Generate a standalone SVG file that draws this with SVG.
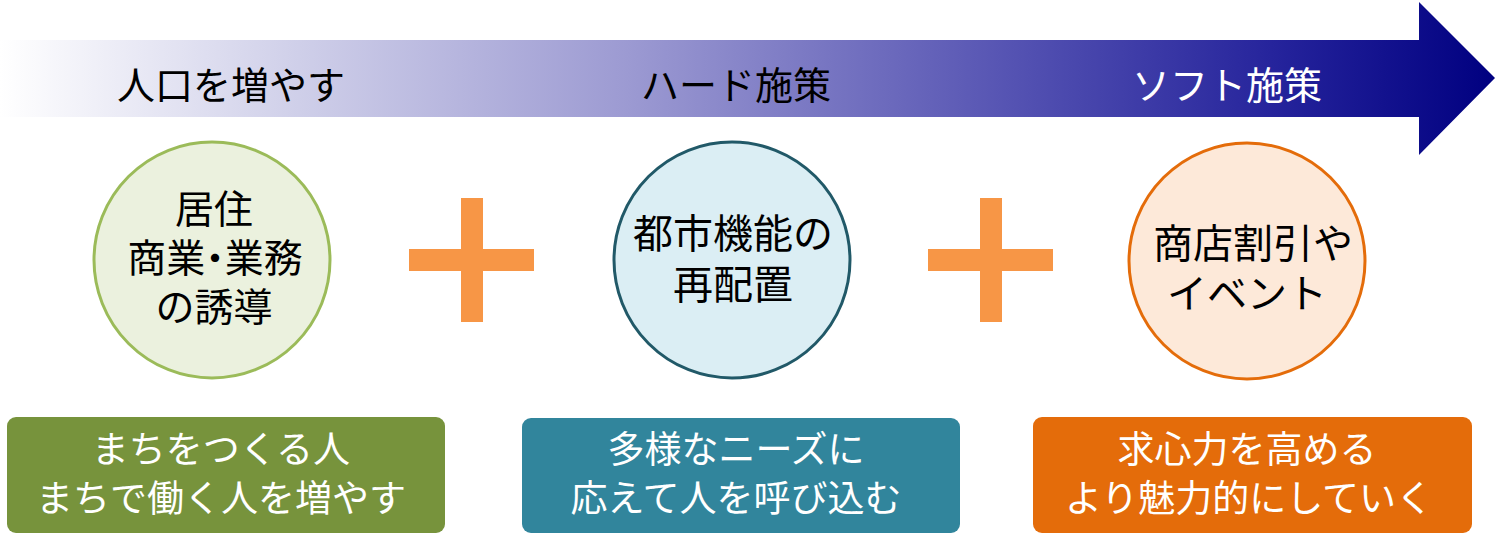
<svg xmlns="http://www.w3.org/2000/svg" width="1497" height="535" viewBox="0 0 1497 535">
<defs>
<linearGradient id="arrowGrad" gradientUnits="userSpaceOnUse" x1="0" y1="0" x2="1495" y2="0">
<stop offset="0" stop-color="#ffffff"/>
<stop offset="0.2" stop-color="#cfcfe9"/>
<stop offset="0.42" stop-color="#9c9ad2"/>
<stop offset="0.68" stop-color="#5452b2"/>
<stop offset="0.85" stop-color="#26249c"/>
<stop offset="1" stop-color="#000080"/>
</linearGradient>
<style>
text{font-family:"Noto Sans CJK JP","Noto Sans",sans-serif;text-anchor:middle}
.hdr{font-size:38px}
.ct{fill:#000}
.bt{font-size:37px;fill:#fff}
.plus{fill:#f79646}
.palt{font-feature-settings:"palt"}
</style>
</defs>
<g id="timeline-arrow">
<polygon points="0,40 1419,40 1419,2 1495,78 1419,155 1419,117 0,117" fill="url(#arrowGrad)"/>
<text class="hdr" x="231" y="99" fill="#000">人口を増やす</text>
<text class="hdr" x="736" y="99" fill="#000">ハード施策</text>
<text class="hdr" x="1227" y="99" fill="#fff">ソフト施策</text>
</g>
<g id="node-residence">
<circle cx="212" cy="260" r="118" fill="#ebf1de" stroke="#9bbb59" stroke-width="3"/>
<text class="ct" style="font-size:39px" x="214" y="223">居住<tspan x="215" dy="49">商業<tspan class="palt">・</tspan>業務</tspan><tspan x="214" dy="49">の誘導</tspan></text>
</g>
<g id="plus-1">
<rect class="plus" x="409" y="249" width="125" height="22"/>
<rect class="plus" x="461" y="198" width="22" height="124"/>
</g>
<g id="node-urban">
<circle cx="732" cy="260" r="118" fill="#dbeef4" stroke="#215968" stroke-width="3"/>
<text class="ct" style="font-size:40px" x="733" y="248">都市機能の<tspan x="733" dy="51">再配置</tspan></text>
</g>
<g id="plus-2">
<rect class="plus" x="928" y="249" width="125" height="22"/>
<rect class="plus" x="980" y="198" width="22" height="124"/>
</g>
<g id="node-shops">
<circle cx="1247" cy="261" r="118" fill="#fde9d9" stroke="#e46c0a" stroke-width="3"/>
<text class="ct" style="font-size:40px" x="1253" y="258">商店割引や<tspan x="1247" dy="50">イベント</tspan></text>
</g>
<g id="box-people">
<rect x="7" y="417" width="438" height="116" rx="9" fill="#77933c"/>
<text class="bt" x="221" y="463">まちをつくる人<tspan x="221" dy="49">まちで働く人を増やす</tspan></text>
</g>
<g id="box-needs">
<rect x="522" y="418" width="438" height="115" rx="9" fill="#31859c"/>
<text class="bt" x="736" y="463">多様なニーズに<tspan x="736" dy="49">応えて人を呼び込む</tspan></text>
</g>
<g id="box-appeal">
<rect x="1033" y="417" width="439" height="116" rx="9" fill="#e46c0a"/>
<text class="bt" x="1247" y="463">求心力を高める<tspan x="1249" dy="49">より魅力的にしていく</tspan></text>
</g>
<g id="connectors"/>
</svg>
